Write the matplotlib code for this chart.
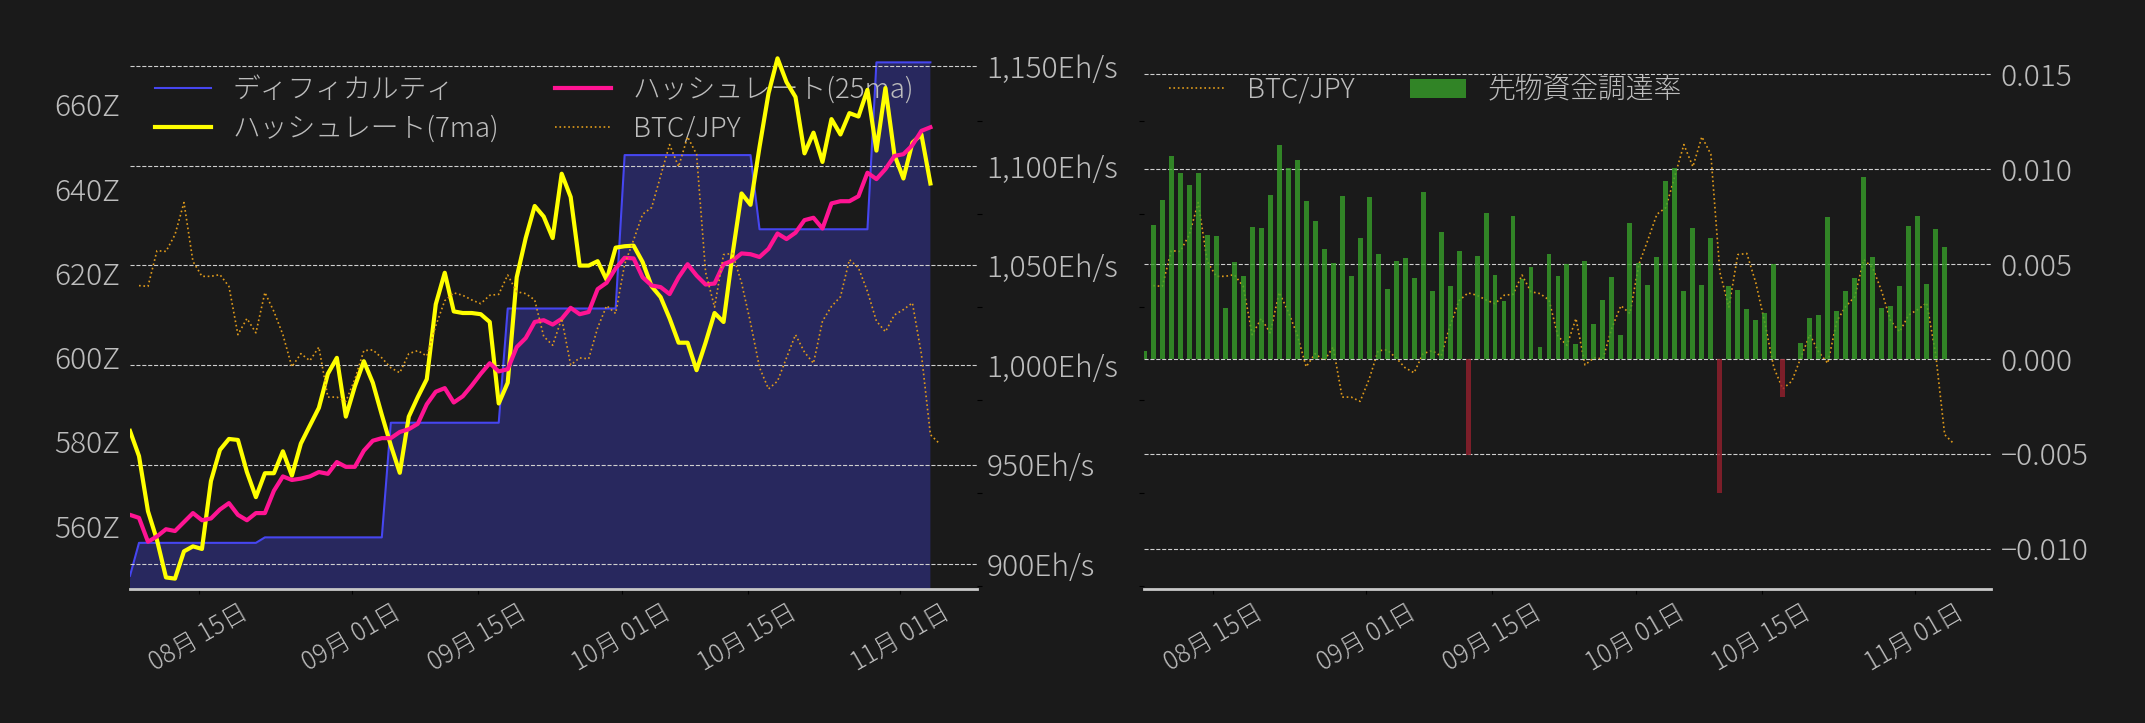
import numpy as np
import pandas as pd
import matplotlib
matplotlib.use("Agg")
import matplotlib.pyplot as plt
import matplotlib.dates as mdates
from matplotlib.ticker import MultipleLocator, FuncFormatter

plt.rcParams['font.family'] = ['Noto Sans CJK JP', 'DejaVu Sans']
plt.rcParams['font.weight'] = 'light'

# ---- data (daily) ----
dates = pd.date_range('2025-08-07 08:00', periods=90, freq='D')
btc_dates = pd.date_range('2025-08-08 08:00', periods=90, freq='D')

# difficulty [Z]
difficulty = [548.2, 556.0, 556.0, 556.0, 556.0, 556.0, 556.0, 556.0, 556.0, 556.0,
              556.0, 556.0, 556.0, 556.0, 556.0, 557.3, 557.3, 557.3, 557.3, 557.3,
              557.3, 557.3, 557.3, 557.3, 557.3, 557.3, 557.3, 557.3, 557.3, 584.5,
              584.5, 584.5, 584.5, 584.5, 584.5, 584.5, 584.5, 584.5, 584.5, 584.5,
              584.5, 584.5, 611.6, 611.6, 611.6, 611.6, 611.6, 611.6, 611.6, 611.6,
              611.6, 611.6, 611.6, 611.6, 611.6, 648.0, 648.0, 648.0, 648.0, 648.0,
              648.0, 648.0, 648.0, 648.0, 648.0, 648.0, 648.0, 648.0, 648.0, 648.0,
              630.4, 630.4, 630.4, 630.4, 630.4, 630.4, 630.4, 630.4, 630.4, 630.4,
              630.4, 630.4, 630.4, 670.0, 670.0, 670.0, 670.0, 670.0, 670.0, 670.0]

# hashrate 7 day moving average [Eh/s]
hash_7ma = [966.9, 954.3, 926.6, 912.2, 893.4, 892.8, 906.5, 909.0, 907.7, 941.8,
            957.4, 962.9, 962.4, 946.3, 933.7, 945.7, 945.7, 956.7, 944.5, 960.6,
            969.6, 978.5, 995.6, 1003.6, 974.1, 989.3, 1001.9, 991.1, 975.0, 959.7,
            945.9, 974.1, 983.9, 992.9, 1030.5, 1046.3, 1026.9, 1026.1, 1026.1, 1025.5,
            1021.6, 980.7, 991.1, 1044.0, 1063.7, 1079.8, 1074.5, 1063.7, 1096.0, 1084.3,
            1049.9, 1049.9, 1052.1, 1042.7, 1058.9, 1059.6, 1059.9, 1051.7, 1039.5, 1034.1,
            1023.4, 1011.2, 1011.2, 997.4, 1011.2, 1026.1, 1021.6, 1055.6, 1086.1, 1080.4,
            1109.4, 1136.3, 1153.9, 1142.0, 1134.5, 1106.2, 1116.6, 1101.9, 1123.4, 1115.7,
            1126.4, 1124.7, 1138.1, 1107.6, 1139.0, 1105.5, 1093.6, 1111.6, 1115.7, 1091.1]

# hashrate 25 day moving average [Eh/s]
hash_25ma = [924.8, 923.3, 911.3, 914.0, 917.6, 916.7, 921.2, 925.7, 922.1, 923.0,
             927.5, 930.7, 924.8, 922.1, 925.7, 925.7, 936.9, 944.1, 942.3, 943.0,
             944.1, 946.3, 945.4, 951.3, 948.9, 948.9, 957.0, 962.0, 963.3, 963.3,
             966.4, 967.8, 970.5, 980.3, 986.6, 988.4, 981.2, 984.3, 989.7, 995.6,
             1000.9, 996.8, 997.9, 1009.0, 1013.5, 1021.6, 1022.5, 1020.3, 1023.2, 1028.7,
             1025.5, 1026.6, 1038.1, 1041.3, 1048.5, 1053.8, 1053.5, 1044.0, 1039.9, 1039.1,
             1035.6, 1044.0, 1050.6, 1044.9, 1040.4, 1040.9, 1050.6, 1052.4, 1056.0, 1055.6,
             1054.2, 1058.3, 1066.0, 1063.2, 1066.4, 1072.7, 1073.9, 1068.5, 1081.1, 1082.2,
             1082.2, 1084.7, 1096.5, 1093.3, 1098.3, 1104.9, 1105.8, 1110.3, 1117.5, 1119.3]

# BTC/JPY [10k JPY]
btc_jpy = [1761.5, 1761.1, 1780.3, 1779.9, 1788.9, 1806.2, 1774.5, 1766.5, 1766.5, 1767.4,
           1761.1, 1735.1, 1743.8, 1736.1, 1757.8, 1747.6, 1735.1, 1717.8, 1724.9, 1721.1,
           1728.4, 1701.5, 1701.5, 1699.2, 1711.1, 1726.5, 1726.9, 1722.6, 1717.3, 1714.6,
           1724.9, 1726.5, 1723.6, 1739.9, 1753.4, 1757.6, 1756.3, 1753.8, 1751.8, 1756.3,
           1756.8, 1767.2, 1758.2, 1757.2, 1753.8, 1734.2, 1729.4, 1743.8, 1718.8, 1722.6,
           1722.1, 1738.8, 1750.7, 1746.5, 1773.0, 1786.1, 1799.9, 1803.5, 1820.5, 1837.4,
           1825.5, 1841.6, 1832.2, 1768.8, 1749.9, 1778.2, 1778.8, 1763.0, 1741.5, 1717.4,
           1705.9, 1710.1, 1722.6, 1735.1, 1725.7, 1719.7, 1742.4, 1750.3, 1755.5, 1775.5,
           1771.1, 1758.4, 1742.4, 1736.7, 1745.7, 1748.6, 1752.2, 1724.6, 1681.3, 1676.5]

# futures funding rate
funding = [0.00039, 0.00706, 0.00838, 0.01069, 0.00981, 0.00917, 0.00981, 0.00653, 0.00647, 0.00269,
           0.00510, 0.00437, 0.00695, 0.00691, 0.00864, 0.01128, 0.01007, 0.01049, 0.00832, 0.00727,
           0.00580, 0.00506, 0.00858, 0.00437, 0.00638, 0.00853, 0.00553, 0.00369, 0.00516, 0.00533,
           0.00427, 0.00879, 0.00358, 0.00668, 0.00384, 0.00568, -0.00505, 0.00542, 0.00770, 0.00442,
           0.00305, 0.00753, 0.00421, 0.00484, 0.00063, 0.00553, 0.00437, 0.00499, 0.00079, 0.00516,
           0.00184, 0.00310, 0.00431, 0.00126, 0.00717, 0.00504, 0.00390, 0.00536, 0.00937, 0.01007,
           0.00358, 0.00691, 0.00390, 0.00638, -0.00706, 0.00384, 0.00363, 0.00263, 0.00205, 0.00243,
           0.00499, -0.00203, 0.00000, 0.00086, 0.00216, 0.00231, 0.00747, 0.00252, 0.00358, 0.00427,
           0.00958, 0.00536, 0.00269, 0.00279, 0.00384, 0.00700, 0.00753, 0.00395, 0.00685, 0.00589]

# ---- style ----
BG = '#1a1a1a'
TXT = '#bdbdbd'
GRID = '#cfcfcf'
FS = 21.5
LFS = 20
XFS = 18

fig = plt.figure(figsize=(21.45, 7.23), dpi=100, facecolor=BG)

x_start = dates[0]
x_end = dates[0] + pd.Timedelta(days=94.15)


def style_base(a):
    a.set_facecolor(BG)
    for s in ['top', 'left', 'right']:
        a.spines[s].set_visible(False)
    a.spines['bottom'].set_color('#c8c8c8')
    a.spines['bottom'].set_linewidth(2)
    a.set_xlim(x_start, x_end)
    a.xaxis.set_major_locator(mdates.DayLocator(bymonthday=[1, 15]))
    a.xaxis.set_major_formatter(mdates.DateFormatter('%m月 %d日'))
    a.tick_params(axis='x', colors='black', labelcolor=TXT, labelsize=XFS, labelrotation=30)


def style_twin(a):
    for s in a.spines.values():
        s.set_visible(False)


# ================= left panel =================
ax = fig.add_axes([0.06061, 0.18492, 0.39473, 0.75284])
style_base(ax)
l_diff, = ax.plot(dates, difficulty, color='#4646f0', lw=1.5, label='ディフィカルティ')
ax.fill_between(dates, difficulty, 0, color='#4646f0', alpha=0.32, lw=0)
ax.set_ylim(544.98, 674.12)
ax.yaxis.set_major_locator(MultipleLocator(20))
ax.yaxis.set_major_formatter(FuncFormatter(lambda v, p: f'{v:.0f}Z'))
ax.tick_params(axis='y', color=(0, 0, 0, 0), labelcolor=TXT, labelsize=FS)

ax2 = ax.twinx()
style_twin(ax2)
l_h7, = ax2.plot(dates, hash_7ma, color='#ffff00', lw=3, label='ハッシュレート(7ma)')
l_h25, = ax2.plot(dates, hash_25ma, color='#ff1493', lw=3, label='ハッシュレート(25ma)')
ax2.set_ylim(887.45, 1160.59)
ax2.yaxis.set_major_locator(MultipleLocator(50))
ax2.yaxis.set_major_formatter(FuncFormatter(lambda v, p: f'{v:,.0f}Eh/s'))
ax2.tick_params(axis='y', color=(0, 0, 0, 0), labelcolor=TXT, labelsize=FS)
ax2.set_axisbelow(True)
ax2.grid(axis='y', ls='--', lw=0.8, color=GRID)

ax3 = ax.twinx()
style_twin(ax3)
l_btc, = ax3.plot(btc_dates, btc_jpy, color='#e09b1a', lw=1.2, ls=':', label='BTC/JPY')
ax3.set_ylim(1598.06, 1891.0)
ax3.yaxis.set_major_locator(MultipleLocator(50))
ax3.tick_params(axis='y', colors='black', labelright=False)

ax.legend(handles=[l_diff, l_h7, l_h25, l_btc], loc='upper left', ncol=2,
          bbox_to_anchor=(0, 0.989), labelspacing=0.38,
          frameon=False, fontsize=LFS, labelcolor=TXT)

# ================= right panel =================
bx = fig.add_axes([0.53347, 0.18492, 0.39473, 0.75284])
style_base(bx)
b_btc, = bx.plot(btc_dates, btc_jpy, color='#e09b1a', lw=1.2, ls=':', label='BTC/JPY')
bx.set_ylim(1598.06, 1891.0)
bx.yaxis.set_major_locator(MultipleLocator(50))
bx.tick_params(axis='y', colors='black', labelleft=False)

bx2 = bx.twinx()
style_twin(bx2)
bar_colors = ['#38a02a' if v >= 0 else '#96202e' for v in funding]
bars = bx2.bar(dates, funding, width=0.55, color=bar_colors, alpha=0.8, label='先物資金調達率')
bx2.set_ylim(-0.012146, 0.016547)
bx2.yaxis.set_major_locator(MultipleLocator(0.005))
bx2.yaxis.set_major_formatter(FuncFormatter(
    lambda v, p: f'{v:.3f}'.replace('-', '\u2212') if abs(v) > 1e-9 else '0.000'))
bx2.tick_params(axis='y', color=(0, 0, 0, 0), labelcolor=TXT, labelsize=FS)
bx2.set_axisbelow(True)
bx2.grid(axis='y', ls='--', lw=0.8, color=GRID)

bx.legend(handles=[b_btc, bars], loc='upper left', ncol=2,
          bbox_to_anchor=(0, 0.989), labelspacing=0.38,
          frameon=False, fontsize=LFS, labelcolor=TXT)

fig.savefig('out.png', dpi=100, facecolor=BG)
